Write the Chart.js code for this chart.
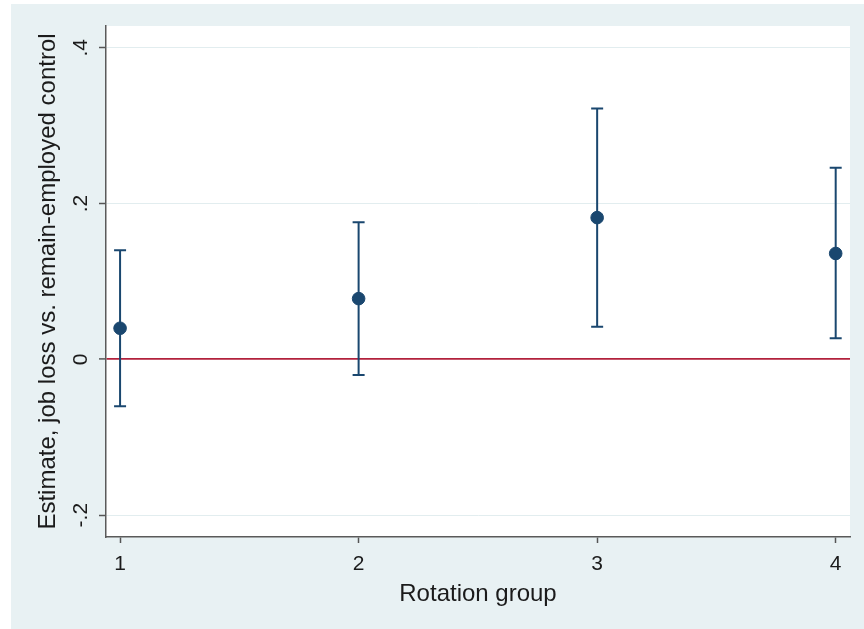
<!DOCTYPE html>
<html>
<head>
<meta charset="utf-8">
<script src="https://cdn.jsdelivr.net/npm/chart.js@4"></script>
<style>
  html, body { margin: 0; padding: 0; background: #fff; }
  #wrap { width: 864px; height: 629px; }
</style>
</head>
<body>
<div id="wrap"><canvas id="chart" width="864" height="629"></canvas></div>
<script>
// data
var groups = [1, 2, 3, 4];
var estimates = [0.040, 0.078, 0.182, 0.136];
var ciLow = [-0.060, -0.020, 0.042, 0.027];
var ciHigh = [0.140, 0.176, 0.322, 0.246];
var yTicks = [-0.2, 0, 0.2, 0.4];
var yTickLabels = ["-.2", "0", ".2", ".4"];
var xTicks = [1, 2, 3, 4];
var xTickLabels = ["1", "2", "3", "4"];

var navy = "#1a476f";
var font = '"Liberation Sans", Arial, sans-serif';

// background + white plot region
var bgPlugin = {
    id: "bg",
    beforeDraw: function (chart) {
        var c = chart.ctx, a = chart.chartArea;
        c.save();
        c.fillStyle = "#e8f1f3";
        c.fillRect(11, 4, chart.width - 11, chart.height - 4);
        c.fillStyle = "#ffffff";
        c.fillRect(a.left, a.top, a.right - a.left, a.bottom - a.top);
        c.restore();
    }
};

// confidence interval whiskers, drawn under the dots
var errPlugin = {
    id: "errbars",
    beforeDatasetsDraw: function (chart) {
        var c = chart.ctx, xs = chart.scales.x, ys = chart.scales.y;
        c.save();
        c.strokeStyle = navy;
        c.lineWidth = 2;
        for (var i = 0; i < groups.length; i++) {
            var x = xs.getPixelForValue(groups[i]);
            var lo = ys.getPixelForValue(ciLow[i]);
            var hi = ys.getPixelForValue(ciHigh[i]);
            c.beginPath();
            c.moveTo(x, lo); c.lineTo(x, hi);
            c.moveTo(x - 6, lo); c.lineTo(x + 6, lo);
            c.moveTo(x - 6, hi); c.lineTo(x + 6, hi);
            c.stroke();
        }
        c.restore();
    }
};

// Stata-style labels (rotated y ticks)
var textPlugin = {
    id: "labels",
    afterDraw: function (chart) {
        var c = chart.ctx, a = chart.chartArea, xs = chart.scales.x, ys = chart.scales.y;
        c.save();
        c.fillStyle = "#1b1b1b";
        c.textAlign = "center";
        c.textBaseline = "middle";
        c.font = "21px " + font;
        yTicks.forEach(function (v, i) {
            c.save();
            c.translate(a.left - 25, ys.getPixelForValue(v));
            c.rotate(-Math.PI / 2);
            c.fillText(yTickLabels[i], 0, 0);
            c.restore();
        });
        xTicks.forEach(function (v, i) {
            c.fillText(xTickLabels[i], xs.getPixelForValue(v), a.bottom + 27);
        });
        c.font = "24px " + font;
        c.fillText("Rotation group", (a.left + a.right) / 2, a.bottom + 57);
        c.translate(a.left - 58, (a.top + a.bottom) / 2);
        c.rotate(-Math.PI / 2);
        c.fillText("Estimate, job loss vs. remain-employed control", 0, 0);
        c.restore();
    }
};

var ctx = document.getElementById("chart");
var myChart = new Chart(ctx, {
    type: "scatter",
    data: {
        datasets: [{
            label: "Estimate",
            data: groups.map(function (g, i) { return { x: g, y: estimates[i] }; }),
            backgroundColor: navy,
            borderColor: navy,
            pointRadius: 6.3,
            pointHoverRadius: 6.3
        }]
    },
    options: {
        responsive: false,
        animation: false,
        layout: { padding: { top: 26, right: 14, left: 0, bottom: 0 } },
        plugins: { legend: { display: false }, tooltip: { enabled: false } },
        scales: {
            x: {
                type: "linear",
                min: 0.941,
                max: 4.06,
                afterBuildTicks: function (s) { s.ticks = xTicks.map(function (v) { return { value: v }; }); },
                afterFit: function (s) { s.height = 92; },
                ticks: { display: false },
                grid: { drawOnChartArea: false, drawTicks: true, tickLength: 6, tickColor: "#555", tickWidth: 1.5 },
                border: { display: true, color: "#5a5a5a", width: 1.5 }
            },
            y: {
                min: -0.228,
                max: 0.428,
                afterBuildTicks: function (s) { s.ticks = yTicks.map(function (v) { return { value: v }; }); },
                afterFit: function (s) { s.width = 106; },
                ticks: { display: false },
                grid: {
                    color: function (c) { return c.tick && c.tick.value === 0 ? "#b2213c" : "#e2edef"; },
                    lineWidth: function (c) { return c.tick && c.tick.value === 0 ? 1.8 : 1; },
                    tickLength: 7,
                    tickColor: "#555",
                    tickWidth: 1.5
                },
                border: { display: true, color: "#5a5a5a", width: 1.5 }
            }
        }
    },
    plugins: [bgPlugin, errPlugin, textPlugin]
});
</script>
</body>
</html>
